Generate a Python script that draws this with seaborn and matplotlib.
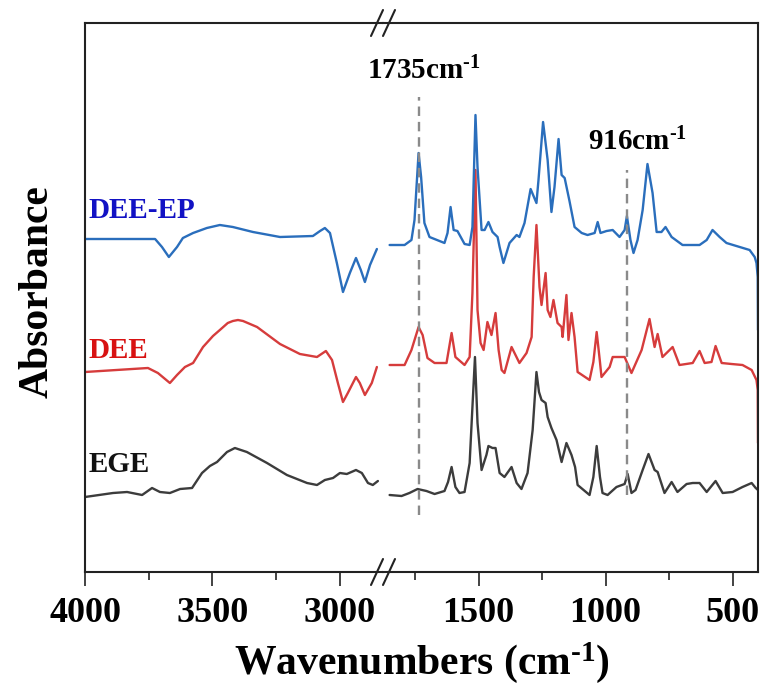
import matplotlib
matplotlib.use("Agg")
import matplotlib.pyplot as plt
from matplotlib.ticker import MultipleLocator
from matplotlib.lines import Line2D
import seaborn as sns
import pandas as pd

# ---- FTIR spectra (stacked, arbitrary absorbance units) ----
# High-wavenumber region (4000 - 2850 cm-1)
EGE_HI_WN = [4000, 3890, 3835, 3776, 3737, 3706, 3667, 3627, 3580, 3541, 3510, 3482, 3443,
             3412, 3365, 3286, 3208, 3129, 3090, 3059, 3027, 3000, 2973, 2937, 2914, 2890,
             2871, 2851]
EGE_HI_A = [0.75, 0.79, 0.80, 0.77, 0.84, 0.80, 0.79, 0.83, 0.84, 0.99, 1.06, 1.10, 1.20,
            1.24, 1.20, 1.09, 0.97, 0.89, 0.87, 0.92, 0.94, 0.99, 0.98, 1.02, 0.99, 0.89,
            0.87, 0.91]

DEE_HI_WN = [4000, 3753, 3714, 3667, 3639, 3608, 3576, 3537, 3498, 3471, 3440, 3420, 3400,
             3380, 3325, 3235, 3157, 3090, 3055, 3031, 3008, 2988, 2969, 2937, 2922, 2902,
             2875, 2855]
DEE_HI_A = [2.00, 2.04, 1.99, 1.89, 1.97, 2.05, 2.09, 2.25, 2.36, 2.42, 2.49, 2.51, 2.52,
            2.51, 2.45, 2.28, 2.18, 2.15, 2.21, 2.12, 1.89, 1.70, 1.79, 1.95, 1.89, 1.77,
            1.89, 2.05]

DEEEP_HI_WN = [4000, 3725, 3698, 3671, 3639, 3616, 3576, 3522, 3471, 3420, 3341, 3235, 3106,
               3078, 3059, 3039, 3012, 2988, 2961, 2937, 2918, 2902, 2882, 2855]
DEEEP_HI_A = [3.33, 3.33, 3.25, 3.15, 3.25, 3.34, 3.39, 3.44, 3.47, 3.45, 3.40, 3.35, 3.36,
              3.41, 3.44, 3.39, 3.09, 2.80, 2.99, 3.14, 3.02, 2.90, 3.07, 3.23]

# Fingerprint region (1850 - 400 cm-1)
EGE_FP_WN = [1850, 1803, 1772, 1740, 1705, 1673, 1634, 1620, 1606, 1591, 1575, 1555, 1535,
             1524, 1514, 1504, 1488, 1469, 1461, 1445, 1433, 1417, 1398, 1370, 1350, 1331,
             1307, 1287, 1272, 1262, 1252, 1236, 1228, 1213, 1193, 1173, 1154, 1134, 1120,
             1110, 1063, 1048, 1035, 1022, 1012, 992, 957, 925, 913, 898, 882, 854, 831,
             807, 795, 768, 740, 717, 681, 657, 630, 602, 567, 539, 500, 461, 425, 409, 400]
EGE_FP_A = [0.77, 0.76, 0.79, 0.83, 0.81, 0.78, 0.81, 0.90, 1.05, 0.85, 0.79, 0.80, 1.09,
            1.65, 2.15, 1.49, 1.02, 1.17, 1.26, 1.24, 1.24, 0.99, 0.95, 1.05, 0.89, 0.83,
            0.99, 1.42, 2.00, 1.80, 1.72, 1.69, 1.55, 1.44, 1.32, 1.10, 1.29, 1.17, 1.05,
            0.87, 0.77, 0.95, 1.26, 0.95, 0.79, 0.77, 0.85, 0.88, 0.98, 0.79, 0.82, 1.02, 1.18,
            1.02, 1.00, 0.79, 0.90, 0.80, 0.88, 0.89, 0.89, 0.80, 0.91, 0.79, 0.80, 0.85, 0.89,
            0.84, 0.82]

DEE_FP_WN = [1850, 1791, 1764, 1736, 1720, 1701, 1673, 1626, 1606, 1591, 1555, 1535, 1524,
             1512, 1504, 1492, 1480, 1465, 1449, 1433, 1421, 1409, 1398, 1370, 1339, 1311,
             1291, 1283, 1272, 1260, 1252, 1236, 1228, 1217, 1205, 1189, 1173, 1169, 1154,
             1146, 1134, 1122, 1110, 1063, 1048, 1035, 1022, 1016, 984, 972, 925, 898, 858,
             827, 807, 795, 776, 736, 709, 657, 630, 610, 583, 567, 543, 504, 461, 425, 406,
             401, 400]
DEE_FP_A = [2.07, 2.07, 2.22, 2.45, 2.37, 2.14, 2.09, 2.09, 2.39, 2.15, 2.07, 2.15, 2.79,
            4.02, 2.62, 2.29, 2.22, 2.50, 2.37, 2.59, 2.22, 2.02, 1.99, 2.25, 2.09, 2.19,
            2.35, 2.95, 3.47, 2.85, 2.67, 2.99, 2.62, 2.55, 2.72, 2.49, 2.45, 2.35, 2.77,
            2.32, 2.59, 2.35, 2.00, 1.92, 2.10, 2.40, 2.10, 1.95, 2.05, 2.15, 2.15, 1.99, 2.22,
            2.53, 2.25, 2.38, 2.15, 2.25, 2.07, 2.09, 2.21, 2.09, 2.10, 2.26, 2.09, 2.08, 2.07,
            2.02, 1.92, 1.82, 1.29]

DEEEP_FP_WN = [1850, 1791, 1764, 1752, 1736, 1726, 1713, 1693, 1634, 1622, 1610, 1598, 1583,
               1555, 1535, 1524, 1512, 1504, 1488, 1476, 1461, 1445, 1425, 1417, 1402, 1378,
               1350, 1339, 1319, 1295, 1272, 1264, 1246, 1228, 1213, 1201, 1185, 1173, 1161,
               1142, 1122, 1094, 1071, 1043, 1031, 1020, 996, 972, 945, 925, 916, 902, 890,
               874, 854, 835, 815, 799, 780, 764, 740, 697, 630, 602, 579, 551, 524, 472, 433,
               413, 406, 401, 400]
DEEEP_FP_A = [3.27, 3.27, 3.32, 3.52, 4.19, 3.95, 3.49, 3.35, 3.29, 3.39, 3.65, 3.42, 3.41,
              3.28, 3.27, 3.45, 4.57, 4.05, 3.42, 3.42, 3.50, 3.40, 3.35, 3.25, 3.09, 3.29,
              3.37, 3.35, 3.49, 3.83, 3.69, 3.92, 4.50, 4.12, 3.60, 3.85, 4.33, 3.97, 3.94,
              3.71, 3.45, 3.39, 3.37, 3.39, 3.50, 3.39, 3.41, 3.42, 3.35, 3.42, 3.56, 3.32,
              3.19, 3.32, 3.62, 4.08, 3.79, 3.40, 3.40, 3.45, 3.35, 3.27, 3.27, 3.32, 3.42,
              3.35, 3.29, 3.25, 3.22, 3.15, 3.09, 2.95, 2.42]

SAMPLES = ["EGE", "DEE", "DEE-EP"]
LINE_COLORS = {"EGE": "#3c3c3c", "DEE": "#d63c3c", "DEE-EP": "#2a6ebc"}
LABEL_COLORS = {"EGE": "#111111", "DEE": "#d81212", "DEE-EP": "#1212c4"}
LABEL_Y = {"EGE": 1.07, "DEE": 2.21, "DEE-EP": 3.61}

MARKER_BANDS = [1735, 916]
MARKER_LABELS = [r"1735cm$^{\text{-1}}$", r"916cm$^{\text{-1}}$"]
MARKER_SPANS = [(0.57, 4.75), (0.77, 4.02)]
MARKER_TEXT_POS = [(1717, 5.01), (874, 4.30)]

HI_XLIM = (4000, 2831)
FP_XLIM = (1876, 400)
YLIM = (0.0, 5.49)

hi = pd.concat([
    pd.DataFrame({"wavenumber": EGE_HI_WN, "absorbance": EGE_HI_A, "sample": "EGE"}),
    pd.DataFrame({"wavenumber": DEE_HI_WN, "absorbance": DEE_HI_A, "sample": "DEE"}),
    pd.DataFrame({"wavenumber": DEEEP_HI_WN, "absorbance": DEEEP_HI_A, "sample": "DEE-EP"}),
])
fp = pd.concat([
    pd.DataFrame({"wavenumber": EGE_FP_WN, "absorbance": EGE_FP_A, "sample": "EGE"}),
    pd.DataFrame({"wavenumber": DEE_FP_WN, "absorbance": DEE_FP_A, "sample": "DEE"}),
    pd.DataFrame({"wavenumber": DEEEP_FP_WN, "absorbance": DEEEP_FP_A, "sample": "DEE-EP"}),
])

sns.set_theme(style="ticks")
plt.rcParams["font.family"] = ["Liberation Serif", "DejaVu Serif"]
plt.rcParams["font.weight"] = "bold"
plt.rcParams["text.color"] = "black"
plt.rcParams["mathtext.fontset"] = "custom"
plt.rcParams["mathtext.rm"] = "Liberation Serif:bold"
plt.rcParams["mathtext.it"] = "Liberation Serif:bold"
plt.rcParams["mathtext.bf"] = "Liberation Serif:bold"
plt.rcParams["mathtext.default"] = "rm"

W, H = 765, 689
fig = plt.figure(figsize=(W / 100, H / 100), dpi=100)
fig.patch.set_facecolor("white")

left_px, break_px, right_px = 85, 383, 758
top_px, bottom_px = 23, 572
y0 = 1 - bottom_px / H
hgt = (bottom_px - top_px) / H
ax_hi = fig.add_axes([left_px / W, y0, (break_px - left_px) / W, hgt])
ax_fp = fig.add_axes([break_px / W, y0, (right_px - break_px) / W, hgt])

for ax, df, xlim in [(ax_hi, hi, HI_XLIM), (ax_fp, fp, FP_XLIM)]:
    for s in SAMPLES:
        sns.lineplot(data=df[df["sample"] == s], x="wavenumber", y="absorbance",
                     ax=ax, color=LINE_COLORS[s], lw=1.7, estimator=None,
                     sort=False, legend=False)
    ax.set_xlim(*xlim)
    ax.set_ylim(*YLIM)
    ax.set_yticks([])
    ax.set_xlabel("")
    ax.set_ylabel("")
    ax.xaxis.set_major_locator(MultipleLocator(500))
    ax.xaxis.set_minor_locator(MultipleLocator(250))
    ax.tick_params(axis="x", which="major", direction="out", length=10, width=1.2,
                   pad=8, labelsize=26, colors="#222222", labelcolor="black")
    ax.tick_params(axis="x", which="minor", direction="out", length=6, width=1.2,
                   colors="#222222")
    for lab in ax.get_xticklabels():
        lab.set_fontweight("bold")
    for sp in ax.spines.values():
        sp.set_linewidth(1.5)
        sp.set_color("#222222")
    ax.set_facecolor("white")

ax_hi.spines["right"].set_visible(False)
ax_fp.spines["left"].set_visible(False)

# characteristic band markers
for band, label, (ya, yb), (tx, ty) in zip(MARKER_BANDS, MARKER_LABELS, MARKER_SPANS,
                                           MARKER_TEXT_POS):
    ax_fp.vlines(band, ya, yb, colors="#8a8a8a", lw=1.7, linestyles=(0, (4, 2.5)),
                 zorder=4)
    ax_fp.text(tx, ty, label, ha="center", va="center", fontsize=21,
               fontweight="bold", color="black")

# sample names
for s in SAMPLES:
    ax_hi.text(3985, LABEL_Y[s], s, ha="left", va="center", fontsize=21,
               fontweight="bold", color=LABEL_COLORS[s])

# axis-break marks on the top and bottom frame
for yp in (top_px, bottom_px):
    for xp in (377, 389):
        fig.add_artist(Line2D([(xp - 6) / W, (xp + 6) / W],
                              [1 - (yp + 13) / H, 1 - (yp - 13) / H],
                              transform=fig.transFigure, color="#222222", lw=1.5))

fig.text(422 / W, 1 - 663 / H, r"Wavenumbers (cm$^{\text{-1}}$)", ha="center",
         va="center", fontsize=30, fontweight="bold", color="black")
fig.text(38 / W, 1 - 292 / H, "Absorbance", ha="center", va="center", rotation=90,
         fontsize=30, fontweight="bold", color="black")

fig.savefig("out.png", dpi=100, facecolor="white")
